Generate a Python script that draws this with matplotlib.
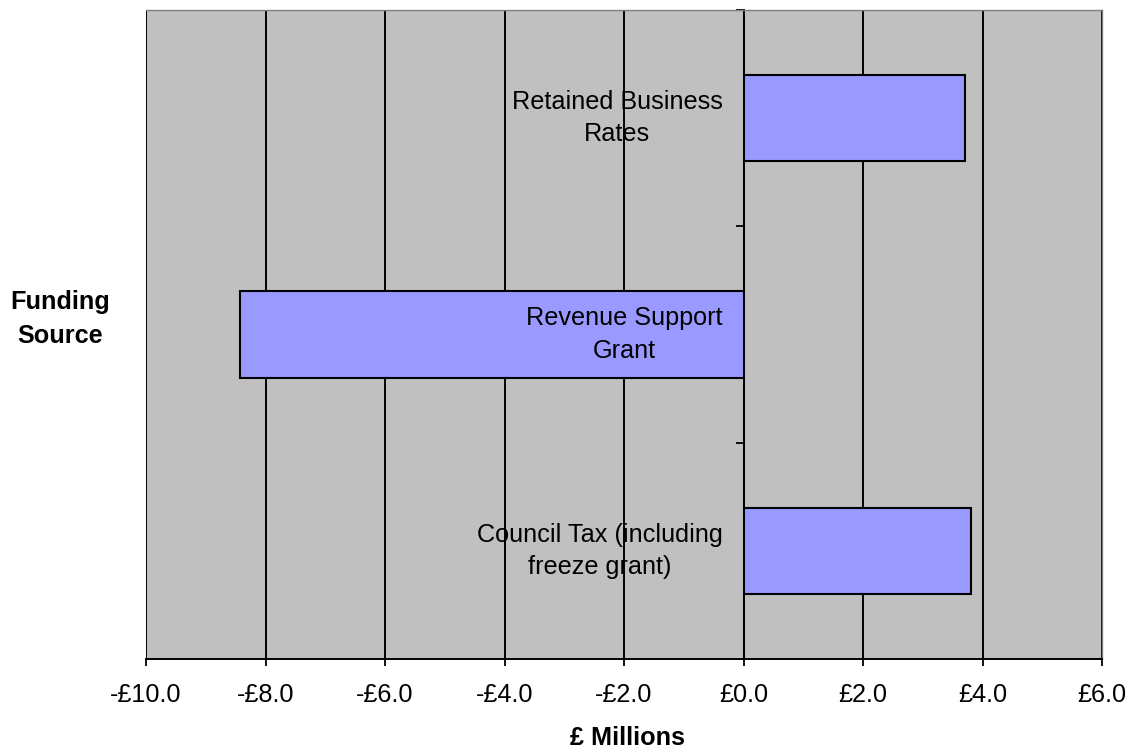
import matplotlib
matplotlib.use("Agg")
import matplotlib.pyplot as plt
from matplotlib.ticker import FuncFormatter, MultipleLocator

# Change in funding by source, £ millions (listed bottom to top)
sources = ["Council Tax (including\nfreeze grant)",
           "Revenue Support\nGrant",
           "Retained Business\nRates"]
change = [3.81, -8.42, 3.71]

x_min, x_max, x_step = -10, 6, 2

plt.rcParams["font.family"] = ["Liberation Sans", "DejaVu Sans"]
FS = 18.2

fig = plt.figure(figsize=(11.29, 7.49), dpi=100)
ax = fig.add_axes([146 / 1129, 90 / 749, (1102 - 146) / 1129, (659 - 10) / 749])
ax.set_facecolor("#C0C0C0")

pos = list(range(len(sources)))
ax.barh(pos, change, height=0.4, color="#9999FF", edgecolor="black",
        linewidth=1.5, zorder=1)

ax.set_xlim(x_min, x_max)
ax.set_ylim(-0.5, len(sources) - 0.5)

# x axis: currency ticks with vertical gridlines
ax.xaxis.set_major_locator(MultipleLocator(x_step))
ax.xaxis.set_major_formatter(FuncFormatter(
    lambda v, _: f"-£{abs(v):.1f}" if v < -1e-9 else f"£{abs(v):.1f}"))
ax.tick_params(axis="x", direction="out", length=5, width=1.3,
               labelsize=FS, pad=12, colors="black")
ax.set_axisbelow(True)
ax.grid(axis="x", color="black", linewidth=1.4)
ax.grid(axis="y", visible=False)

# y axis sits on the zero line, ticks mark category boundaries
ax.spines["left"].set_position(("data", 0))
ax.spines["left"].set_linewidth(1.4)
ax.spines["bottom"].set_linewidth(1.4)
for s in ("top", "right"):
    ax.spines[s].set_color("#808080")
    ax.spines[s].set_linewidth(1.0)
ax.set_yticks([p - 0.5 for p in pos] + [len(sources) - 0.5])
ax.set_yticklabels([])
ax.tick_params(axis="y", direction="out", length=6, width=1.3)

# Category labels just left of the zero line
for p, name, v in zip(pos, sources, change):
    ax.annotate(name, xy=(0, p), xytext=(-15, 0), textcoords="offset points",
                ha="right", va="center", multialignment="center",
                fontsize=FS, linespacing=1.45,
                zorder=3 if v < 0 else 0.4)

fig.text(627 / 1129, 1 - 738 / 749, "£ Millions", ha="center", va="center",
         fontsize=FS, fontweight="bold")
fig.text(60 / 1129, 1 - 319 / 749, "Funding\nSource", ha="center",
         va="center", fontsize=FS, fontweight="bold", linespacing=1.5)

fig.savefig("out.png", dpi=100)
